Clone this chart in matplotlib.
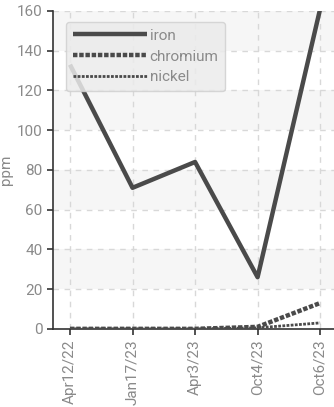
import matplotlib
matplotlib.use("Agg")
import matplotlib.pyplot as plt

dates = ["Apr12/22", "Jan17/23", "Apr3/23", "Oct4/23", "Oct6/23"]
iron = [133, 71, 84, 26, 161]
chromium = [0, 0, 0, 1, 13]
nickel = [0, 0, 0, 0.5, 3]

plt.rcParams['font.family'] = ['Roboto', 'DejaVu Sans']
grey = '#8a8a8a'
dark = '#4a4a4a'

fig = plt.figure(figsize=(3.34, 4.07), dpi=100)
ax = fig.add_axes([0.159, 0.192, 0.85, 0.781])

x = list(range(len(dates)))
ax.plot(x, iron, color=dark, lw=3.2, solid_capstyle='butt', label='iron', zorder=3)
ax.plot(x, chromium, color=dark, lw=3.2, ls=(0, (1, 0.4)), label='chromium', zorder=3)
ax.plot(x, nickel, color=dark, lw=2.0, ls=(0, (1, 0.5)), label='nickel', zorder=3)

# alternating background bands
for lo in range(20, 160, 40):
    ax.axhspan(lo, lo + 20, color='#f6f6f6', zorder=0, lw=0)

ax.set_xlim(-0.27, 4.27)
ax.set_ylim(0, 160)
ax.set_yticks(range(0, 161, 20))
ax.set_xticks(x)
ax.set_xticklabels(dates, rotation=90)
ax.grid(True, ls=(0, (4, 4)), color='#d8d8d8', lw=1)
ax.set_axisbelow(True)

for s in ['top', 'right']:
    ax.spines[s].set_visible(False)
for s in ['left', 'bottom']:
    ax.spines[s].set_color('#333333')
    ax.spines[s].set_linewidth(1.2)
ax.tick_params(colors='#333333', labelcolor=grey, labelsize=11, length=4, width=1.2)
ax.set_ylabel('ppm', color=grey, fontsize=11)
ax.yaxis.set_label_coords(-0.14, 0.5)

leg = ax.legend(loc='upper left', bbox_to_anchor=(0.02, 0.99), handlelength=4.8,
                fontsize=11, labelcolor=grey, frameon=True, fancybox=True,
                borderpad=0.45, labelspacing=0.45, handletextpad=0.2)
leg.get_frame().set_facecolor('#ebebeb')
leg.get_frame().set_alpha(0.85)
leg.get_frame().set_edgecolor('#d0d0d0')

fig.savefig('out.png', dpi=100)
